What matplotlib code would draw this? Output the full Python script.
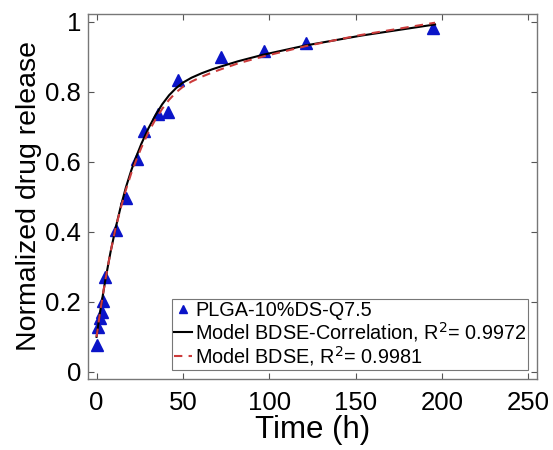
import matplotlib
matplotlib.use("Agg")
import matplotlib.pyplot as plt

t_data = [0, 1, 2, 3, 4, 5, 11, 17, 23.3, 27.5, 35.4, 41.4, 47.4, 72, 96.7, 121, 195]
y_data = [0.078, 0.128, 0.154, 0.172, 0.203, 0.271, 0.405, 0.497, 0.609, 0.689,
          0.735, 0.743, 0.832, 0.898, 0.915, 0.939, 0.981]

# model curves
t_model = [0, 2, 5, 8, 11, 14, 17, 20, 23, 26, 30, 34, 38, 42, 46, 50, 55, 61, 67,
           72, 82, 96, 121, 153, 196]
y_corr = [0.10, 0.17, 0.26, 0.34, 0.41, 0.472, 0.527, 0.574, 0.615, 0.652, 0.695,
          0.732, 0.764, 0.790, 0.810, 0.826, 0.840, 0.853, 0.864, 0.872, 0.887,
          0.905, 0.932, 0.960, 0.992]
y_bdse = [0.10, 0.17, 0.26, 0.34, 0.41, 0.468, 0.520, 0.566, 0.605, 0.641, 0.684,
          0.720, 0.751, 0.777, 0.798, 0.814, 0.829, 0.843, 0.855, 0.864, 0.881,
          0.900, 0.930, 0.962, 0.997]

x_ticks = [0, 50, 100, 150, 200, 250]
y_ticks = [0, 0.2, 0.4, 0.6, 0.8, 1]
y_tick_labels = ["0", "0.2", "0.4", "0.6", "0.8", "1"]

plt.rcParams["font.family"] = ["Liberation Sans", "DejaVu Sans"]

fig = plt.figure(figsize=(5.53, 4.5), dpi=100)
ax = fig.add_axes([0.159, 0.158, 0.812, 0.811])

ax.plot(t_data, y_data, linestyle="none", marker="^", markersize=8.5,
        color="#0a14c8", label="PLGA-10%DS-Q7.5")
ax.plot(t_model, y_corr, color="black", linewidth=1.5,
        label="Model BDSE-Correlation, R$^2$= 0.9972")
ax.plot(t_model, y_bdse, color="#cc3b3b", linewidth=1.5, linestyle=(0, (4, 3)),
        label="Model BDSE, R$^2$= 0.9981")

ax.set_xlim(-5, 255)
ax.set_ylim(-0.02, 1.022)
ax.set_xticks(x_ticks)
ax.set_yticks(y_ticks)
ax.set_yticklabels(y_tick_labels)
ax.tick_params(direction="in", top=True, right=True, labelsize=18.5, length=4,
               color="#555555", width=0.8)
ax.tick_params(axis="x", pad=9)
ax.tick_params(axis="y", pad=5)
for s in ax.spines.values():
    s.set_color("#777777")
    s.set_linewidth(1.0)

ax.set_xlabel("Time (h)", fontsize=22.5, labelpad=0)
ax.set_ylabel("Normalized drug release", fontsize=20.5, labelpad=2)

leg = ax.legend(loc="lower right", fontsize=14.3, frameon=True, fancybox=False,
                edgecolor="#555555", handlelength=0.9, handletextpad=0.15,
                borderpad=0.1, labelspacing=0.0, borderaxespad=0.45,
                markerscale=0.7)
leg.get_frame().set_linewidth(0.8)

fig.savefig("out.png", dpi=100)
